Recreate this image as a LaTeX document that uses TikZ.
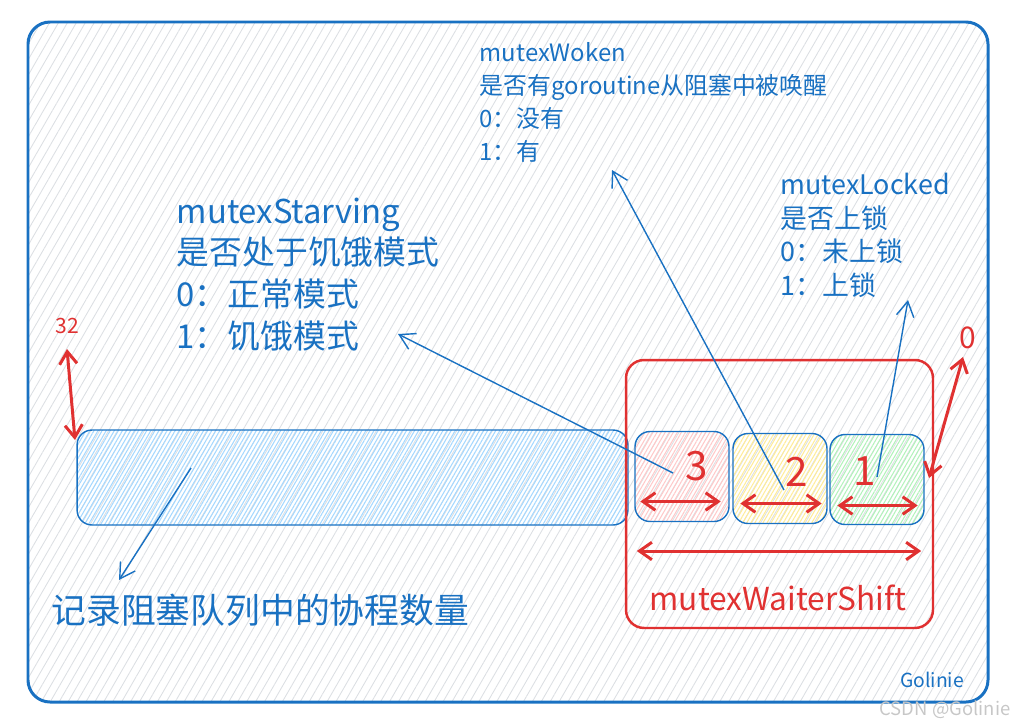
\documentclass[tikz,border=0pt]{standalone}
\usepackage{fontspec}
\setmainfont{Noto Sans CJK SC}
\newfontfamily\penfont{Noto Sans CJK SC}
\usetikzlibrary{arrows.meta,patterns.meta}
\definecolor{penblue}{HTML}{1971C2}
\definecolor{penred}{HTML}{E03131}
\definecolor{hatchgray}{HTML}{DCDFE3}
\definecolor{fillblue}{HTML}{A5D8FF}
\definecolor{fillred}{HTML}{FFC9C9}
\definecolor{fillyellow}{HTML}{FFEC99}
\definecolor{fillgreen}{HTML}{B2F2BB}
\tikzset{every path/.style={thick}}
\tikzset{
  hatch/.style={pattern={Lines[angle=60,distance=2pt,line width=0.6pt]},pattern color=#1},
  bitbox/.style={draw=penblue,line width=0.8pt,rounded corners=0.3cm,minimum width=1.88cm,minimum height=1.8cm,inner sep=0pt},
  note/.style={text=penblue,align=left,anchor=north west,inner sep=0pt},
  digit/.style={text=penred,font=\penfont\fontsize{23}{25}\selectfont},
  span/.style={penred,line width=1.7pt,{Straight Barb[length=2.5mm,width=3.5mm]}-{Straight Barb[length=2.5mm,width=3.5mm]}},
  callout/.style={penblue,line width=0.8pt,-{Straight Barb[length=3mm,width=3.5mm]}}
}

\begin{document}
\begin{tikzpicture}[x=0.02cm,y=-0.02cm]
\useasboundingbox (0,0) rectangle (1017,727);
\fill[hatch=hatchgray,pattern={Lines[angle=60,distance=4.4pt,line width=0.5pt]},rounded corners=0.44cm] (28,22) rectangle (988,702);
\draw[penblue,line width=1.7pt,rounded corners=0.44cm] (28,22) rectangle (988,702);

\node[bitbox,hatch=fillblue,minimum width=11.02cm,minimum height=1.9cm] (bar) at (352.5,477.5) {};
\node[bitbox,hatch=fillred] (b3) at (682,476.5) {};
\node[bitbox,hatch=fillyellow] (b2) at (780,478.5) {};
\node[bitbox,hatch=fillgreen] (b1) at (877,479.5) {};
\node[draw=penred,line width=1.4pt,rounded corners=0.36cm,minimum width=6.14cm,minimum height=5.36cm] (shiftbox) at (779.5,494) {};

\node[digit] (n3) at (697,466) {3};
\node[digit] (n2) at (797,472) {2};
\node[digit] (n1) at (865,471) {1};
\draw[span] ([shift={(6,25)}]b3.west) -- ([shift={(-9,25)}]b3.east);
\draw[span] ([shift={(8,25)}]b2.west) -- ([shift={(-6,25)}]b2.east);
\draw[span] ([shift={(8,26)}]b1.west) -- ([shift={(-7,26)}]b1.east);
\draw[span] ([shift={(12,57)}]shiftbox.west) -- ([shift={(-13,57)}]shiftbox.east);
\node[text=penred,font=\penfont\fontsize{18}{20}\selectfont] (waiter) at (778,598) {mutexWaiterShift};

\node[text=penred,font=\penfont\fontsize{12}{14}\selectfont] (n32) at (67,326) {32};
\coordinate (top32) at (67,349);
\coordinate (bit32) at (75,440);
\draw[span] (top32) -- (bit32);
\node[text=penred,font=\penfont\fontsize{17}{19}\selectfont] (n0) at (968,338) {0};
\coordinate (top0) at (963,357);
\coordinate (bit0) at (929,478);
\draw[span] (top0) -- (bit0);

\node[note,font=\penfont\fontsize{18.7}{23.8}\selectfont] (starving) at (176,197) {mutexStarving\\是否处于饥饿模式\\0：正常模式\\1：饥饿模式};
\node[note,font=\penfont\fontsize{13.6}{18.7}\selectfont] (woken) at (479,42) {mutexWoken\\是否有goroutine从阻塞中被唤醒\\0：没有\\1：有};
\node[note,font=\penfont\fontsize{15.3}{19.3}\selectfont] (locked) at (780,172) {mutexLocked\\是否上锁\\0：未上锁\\1：上锁};
\node[text=penblue,anchor=west,font=\penfont\fontsize{19.8}{22}\selectfont] (count) at (45,610) {记录阻塞队列中的协程数量};

\coordinate (tail3) at (673,473);
\coordinate (head3) at (398,334);
\draw[callout] (tail3) -- (head3);
\coordinate (tail2) at (784,490);
\coordinate (head2) at (612,170);
\draw[callout] (tail2) -- (head2);
\coordinate (tail1) at (877,477);
\coordinate (head1) at (908,300);
\draw[callout] (tail1) -- (head1);
\coordinate (tailbar) at (191,468);
\coordinate (headbar) at (119,580);
\draw[callout] (tailbar) -- (headbar);

\node[text=penblue,font=\penfont\fontsize{11}{13}\selectfont] (sign) at (932,680) {Golinie};
\node[text=black!22,font=\penfont\fontsize{10.5}{12}\selectfont] (mark) at (945,710) {CSDN @Golinie};
\end{tikzpicture}
\end{document}
